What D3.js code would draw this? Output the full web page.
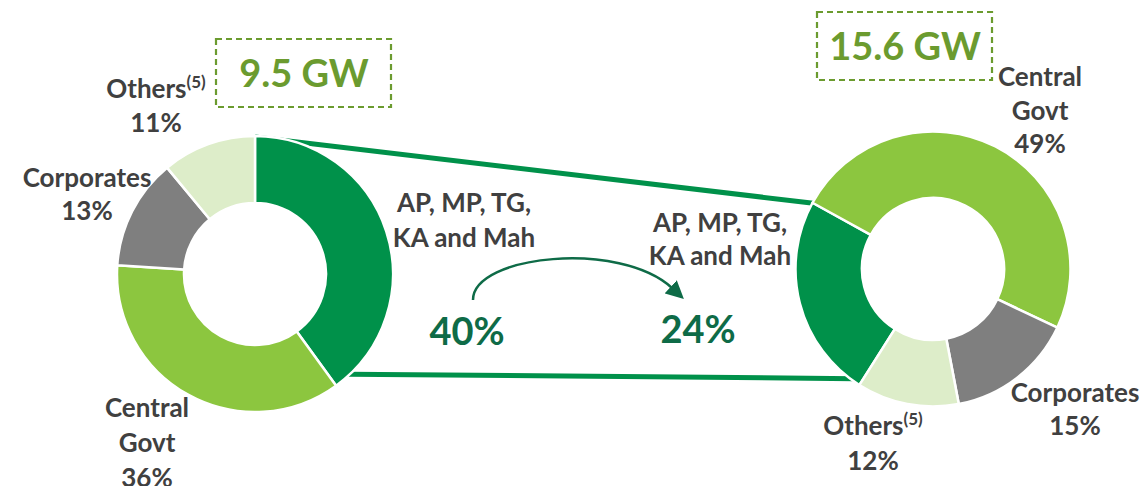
<!DOCTYPE html>
<html><head><meta charset="utf-8">
<script src="https://cdn.jsdelivr.net/npm/d3@7"></script>
<style>
body{margin:0;background:#fff}
svg{display:block}
text{font-family:Lato,"Open Sans",sans-serif;font-weight:700}
</style>
</head><body>
<svg id="chart" width="1142" height="486"></svg>
<script>
// ---- data ----
const categories = ["AP, MP, TG, KA and Mah", "Central Govt", "Corporates", "Others"];
const leftShares = [40, 36, 13, 11];    // 9.5 GW portfolio
const rightShares = [24, 49, 15, 12];   // 15.6 GW portfolio
const capacityLabels = ["9.5 GW", "15.6 GW"];
const footnote = "(5)";

const colors = ["#00914a", "#8cc63f", "#7f7f7f", "#ddedc9"];
const textColor = "#404040";
const boxColor = "#6b9b2f";
const pctColor = "#0e6b47";

const svg = d3.select("#chart");
const deg = Math.PI / 180;

const donuts = [
  {cx: 255, cy: 274, ro: 138, ri: 71, start: 0, values: leftShares},
  {cx: 933, cy: 269, ro: 137.5, ri: 71, start: 212.4 * deg, values: rightShares}
];
donuts.forEach(d => {
  d.arcs = d3.pie().sort(null).value(v => v)
    .startAngle(d.start).endAngle(d.start + 2 * Math.PI)(d.values);
});
const pt = (d, a, r) => [d.cx + r * Math.sin(a), d.cy - r * Math.cos(a)];

// ---- connector lines (AP segment zoom) ----
const L = donuts[0], R = donuts[1];
const topA = pt(L, L.arcs[0].startAngle, L.ro - 1);
const topB = pt(R, R.arcs[0].endAngle, R.ro - 1);
const botA = pt(L, 137 * deg, L.ro - 1);
const botB = pt(R, R.arcs[0].startAngle + 3 * deg, R.ro - 3);
svg.append("g").selectAll("line").data([[topA, topB], [botA, botB]]).join("line")
  .attr("x1", d => d[0][0]).attr("y1", d => d[0][1])
  .attr("x2", d => d[1][0]).attr("y2", d => d[1][1])
  .attr("stroke", colors[0]).attr("stroke-width", 5);

// ---- donuts ----
donuts.forEach(d => {
  const arc = d3.arc().innerRadius(d.ri).outerRadius(d.ro);
  svg.append("g").attr("transform", `translate(${d.cx},${d.cy})`)
    .selectAll("path").data(d.arcs).join("path")
    .attr("d", arc)
    .attr("fill", (a, i) => colors[i])
    .attr("stroke", "#fff").attr("stroke-width", 2.5).attr("stroke-linejoin", "round");
});

// ---- labels ----
function label(x, y, lines, opts = {}) {
  const size = opts.size || 26;
  const lh = opts.lh || 34;
  const t = svg.append("text").attr("text-anchor", "middle")
    .attr("fill", opts.color || textColor).attr("font-size", size);
  lines.forEach((ln, i) => {
    const ts = t.append("tspan").attr("x", x).attr("y", y + i * lh);
    if (typeof ln === "object") {
      ts.append("tspan").text(ln.text);
      ts.append("tspan").attr("font-size", 17).attr("dy", -10).text(ln.note);
    } else ts.text(ln);
  });
  return t;
}
const pct = v => v + "%";
const [apName, cgName, corpName, othName] = categories;
const apLines = ["AP, MP, TG,", "KA and Mah"];
const cgLines = cgName.split(" ");

// left
label(156, 98, [{text: othName, note: footnote}, pct(leftShares[3])]);
label(87, 187, [corpName, pct(leftShares[2])], {lh: 33});
label(147, 417, [...cgLines, pct(leftShares[1])], {lh: 35});
label(464, 212, apLines, {lh: 35});
label(467, 345, [pct(leftShares[0])], {size: 38, color: pctColor});

// right
label(1040, 86, [...cgLines, pct(rightShares[1])], {lh: 33.5});
label(1075, 402, [corpName, pct(rightShares[2])], {lh: 33});
label(873, 435, [{text: othName, note: footnote}, pct(rightShares[3])], {lh: 35});
label(720, 232, apLines, {lh: 33});
label(698, 343, [pct(rightShares[0])], {size: 38, color: pctColor});

// ---- capacity boxes ----
const boxes = [
  {x: 216, y: 39, w: 175, h: 68, tx: 304, ty: 87},
  {x: 817, y: 12, w: 175, h: 68, tx: 905, ty: 60}
];
boxes.forEach((b, i) => {
  svg.append("rect").attr("x", b.x).attr("y", b.y).attr("width", b.w).attr("height", b.h)
    .attr("fill", "none").attr("stroke", boxColor).attr("stroke-width", 2.2)
    .attr("stroke-dasharray", "6,4");
  svg.append("text").attr("x", b.tx).attr("y", b.ty).attr("text-anchor", "middle")
    .attr("font-size", 38).attr("fill", boxColor).text(capacityLabels[i]);
});

// ---- curved arrow ----
svg.append("defs").append("marker").attr("id", "ah")
  .attr("viewBox", "0 0 10 10").attr("refX", 1).attr("refY", 5)
  .attr("markerWidth", 18).attr("markerHeight", 18)
  .attr("markerUnits", "userSpaceOnUse").attr("orient", "auto")
  .append("path").attr("d", "M0,0L10,5L0,10z").attr("fill", pctColor);
const ap = d3.path();
ap.moveTo(473, 300);
ap.bezierCurveTo(473, 255, 620, 240, 672, 288);
svg.append("path").attr("d", ap.toString()).attr("fill", "none")
  .attr("stroke", pctColor).attr("stroke-width", 2.5).attr("marker-end", "url(#ah)");
</script>
</body></html>
